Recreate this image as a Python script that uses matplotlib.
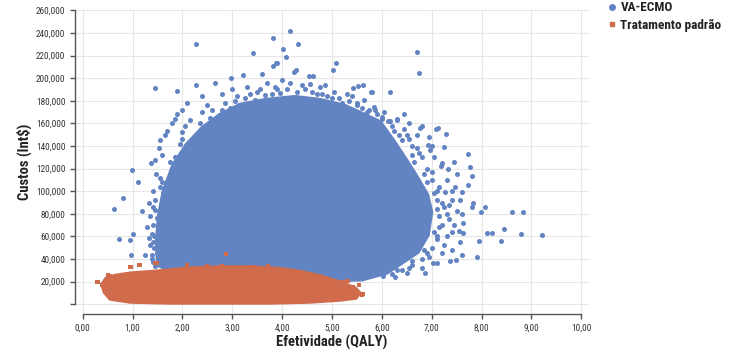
import matplotlib
matplotlib.use("Agg")
import matplotlib.pyplot as plt
from matplotlib.lines import Line2D
from matplotlib.ticker import FuncFormatter

BLUE = "#6384C3"
ORANGE = "#D06B4C"

series_names = ["VA-ECMO", "Tratamento padrão"]

# Dense core outline of VA-ECMO cloud (QALY, Int$)
ecmo_core_x = [1.51, 1.49, 1.53, 1.63, 1.82, 2.08, 2.40, 2.75, 3.15, 3.66, 4.26, 4.76, 5.26, 5.66,
               5.96, 6.22, 6.46, 6.70, 6.91, 6.99, 6.92, 6.72, 6.42, 6.10, 5.60, 5.00, 4.40, 3.80,
               3.00, 2.20, 1.60]
ecmo_core_y = [35000, 56900, 79000, 101000, 123200, 140900, 155900, 167400, 176300, 180700, 183300,
               180700, 175400, 167400, 161200, 145300, 129400, 112600, 96700, 81600, 61300, 46300,
               37400, 28000, 22000, 21500, 24000, 28000, 30000, 31000, 33000]

# Sparse VA-ECMO points outside the core
ecmo_x = [1.45, 0.99, 1.37, 1.47, 1.53, 1.11, 0.80, 0.62, 0.73, 0.95, 1.00, 0.97, 1.25, 1.39, 1.49,
          1.19, 1.32, 1.29, 1.33, 1.89, 1.85, 1.70, 1.55, 2.27, 2.65, 2.98, 3.22, 3.60, 3.88, 4.24,
          4.28, 4.54, 4.86, 2.28, 3.82, 4.16, 4.32, 4.02, 4.08, 3.42, 6.71, 6.75, 3.82, 3.90, 4.62,
          5.08, 5.03, 6.17, 5.63, 5.52, 5.42, 5.81, 5.79, 6.16, 6.31, 6.81, 6.77, 7.09, 7.13, 7.29,
          7.25, 7.73, 7.77, 7.80, 7.45, 7.19, 6.93, 6.97, 6.55, 6.71, 7.61, 7.73, 7.83, 7.81, 7.99,
          8.07, 8.61, 8.83, 8.45, 8.11, 8.21, 7.95, 8.39, 8.79, 9.21, 7.91, 7.61, 7.49, 7.37, 7.10,
          7.03, 6.87, 6.81, 6.27, 6.03, 7.63, 7.63, 7.57, 7.51, 7.57, 7.47, 5.85, 5.87, 6.12, 6.30,
          7.33, 7.27,
          2.0, 2.1, 2.4, 2.5, 2.8, 3.0, 3.1, 3.3, 3.5, 3.7, 3.9, 4.0, 4.4, 4.6, 4.8, 5.0, 5.2, 5.4,
          5.5, 5.7, 6.0, 1.8, 1.9, 1.65, 1.6, 1.45, 1.55, 1.4, 1.45, 1.35, 1.4, 1.38, 1.42, 1.5, 1.6,
          6.5, 6.6, 6.8, 6.9, 7.0, 7.1, 7.2, 7.3, 7.2, 7.1, 7.0, 6.9, 6.6, 6.4, 7.4, 7.35, 7.4, 7.25,
          2.0, 2.05, 2.15, 2.3, 2.35, 2.4, 2.55, 2.6, 2.8, 2.85, 2.95, 3.05, 3.25, 3.35, 3.45, 3.55,
          3.65, 3.8, 3.85, 3.95, 4.1, 4.15, 4.3, 4.45, 4.55, 4.7, 4.75, 4.9, 5.05, 5.15, 5.3, 5.35,
          5.5, 5.6, 5.65, 5.75, 5.9, 6.0, 6.05, 6.2, 6.25,
          6.35, 6.4, 6.45, 6.6, 6.65, 6.75, 6.85, 6.9, 7.0, 7.05, 7.1, 7.15, 7.1, 7.15, 7.25, 7.05,
          7.1, 7.15, 6.85, 6.95, 6.8, 6.6, 6.55, 6.5, 6.2, 6.3,
          1.4, 1.45, 1.38, 1.4, 1.35, 1.42, 1.48, 1.45, 1.4, 1.62, 1.55, 1.6, 1.8, 1.75, 1.85, 2.05,
          1.95, 2.0,
          7.2, 7.05, 7.3, 7.4, 7.35, 7.45, 7.3, 7.2, 7.4, 7.5, 7.6, 7.55, 7.0, 6.95, 6.7, 6.55, 6.45]
ecmo_y = [191000, 118700, 124800, 115400, 138000, 108000, 94000, 84300, 57600, 56900, 62200, 43600,
          43600, 43600, 45400, 82500, 89600, 68400, 58600, 188600, 164000, 153000, 145000, 194000,
          196000, 200000, 203000, 204000, 213000, 205000, 207000, 202000, 194000, 230000, 235600,
          242000, 230000, 225600, 219000, 222000, 223000, 204500, 211000, 213400, 202000, 213700,
          207000, 188000, 194000, 193000, 191000, 187700, 188000, 162000, 163600, 157600, 155800,
          155000, 155500, 150500, 139000, 132800, 121000, 113600, 125600, 122300, 140800, 136400,
          146200, 138000, 99200, 105500, 89500, 86000, 81600, 86000, 81600, 81600, 66600, 63000,
          63000, 56000, 56000, 62000, 61300, 41800, 43600, 39200, 38300, 36500, 36800, 27700, 32100,
          24100, 25000, 71800, 63000, 55000, 82500, 92000, 103700, 174600, 171800, 162000, 163000,
          119600, 99200,
          172000, 178000, 184000, 176000, 186000, 190000, 184000, 192000, 188000, 196000, 190000,
          198000, 194000, 188000, 186000, 182000, 178000, 184000, 176000, 170000, 166000, 160000,
          168000, 150000, 132000, 128000, 112000, 100000, 92000, 78000, 70000, 62000, 50000, 45000,
          40000,
          150000, 140000, 130000, 120000, 110000, 100000, 90000, 80000, 70000, 60000, 50000, 45000,
          35000, 30000, 92000, 75000, 64000, 52000,
          152000, 158000, 163000, 150000, 160000, 170000, 165000, 172000, 172000, 178000, 174000,
          180000, 182000, 186000, 181000, 190000, 185000, 186000, 192000, 187000, 190000, 196000,
          188000, 190000, 195000, 186000, 192000, 184000, 188000, 182000, 186000, 180000, 178000,
          174000, 181000, 172000, 168000, 164000, 170000, 158000, 153000,
          150000, 145000, 155000, 132000, 126000, 134000, 115000, 108000, 117000, 98000, 92000,
          104000, 84000, 78000, 86000, 64000, 58000, 68000, 48000, 42000, 40000, 38000, 32000,
          28000, 27000, 30000,
          37000, 34000, 40000, 55000, 52000, 60000, 76000, 83000, 86000, 98000, 104000, 108000,
          120000, 126000, 130000, 138000, 142000, 146000,
          125000, 130000, 110000, 100000, 88000, 70000, 60000, 45000, 48000, 115000, 80000, 65000,
          140000, 148000, 150000, 160000, 168000]

# Dense core outline of standard-treatment cloud
std_core_x = [0.39, 0.47, 0.65, 0.95, 1.55, 2.15, 2.75, 3.36, 3.96, 4.36, 4.76, 5.16, 5.46, 5.56,
              5.48, 5.16, 4.56, 3.76, 2.75, 1.75, 0.95, 0.55, 0.43]
std_core_y = [17950, 23000, 25500, 27500, 29500, 32000, 33000, 33000, 31500, 29000, 25030, 19720,
              14420, 9990, 5570, 3800, 2030, 1150, 1150, 1150, 2030, 4690, 10880]

std_x = [0.28, 0.31, 0.39, 0.51, 0.55, 0.95, 0.97, 1.13, 1.15, 1.45, 1.49, 2.09, 2.88, 2.80, 2.50,
         3.42, 3.72, 5.42, 5.62, 5.30, 4.82, 5.02, 5.50, 5.22, 5.32, 5.54, 5.60, 5.42, 5.40]
std_y = [19700, 19700, 17000, 25900, 25000, 33000, 33000, 34800, 34800, 36500, 36500, 34800, 44500,
         34000, 33500, 33000, 33900, 15300, 9100, 20600, 18800, 15300, 10900, 19700, 20300, 17000,
         8200, 12600, 8200]

x_ticks = [0, 1, 2, 3, 4, 5, 6, 7, 8, 9, 10]
y_ticks = [0, 20000, 40000, 60000, 80000, 100000, 120000, 140000, 160000, 180000, 200000, 220000,
           240000, 260000]

plt.rcParams["font.family"] = ["Roboto Condensed", "Archivo Narrow", "Asap Condensed",
                               "Liberation Sans", "DejaVu Sans"]

fig = plt.figure(figsize=(7.5, 3.56), dpi=100)
ax = fig.add_axes([74.5 / 750, 1 - 314.25 / 356, 514.5 / 750, (314.25 - 10.3) / 356])

ax.fill(ecmo_core_x, ecmo_core_y, color=BLUE, lw=3, zorder=2)
ax.scatter(ecmo_x, ecmo_y, s=13, color=BLUE, marker="o", linewidths=0, zorder=2)
ax.fill(std_core_x, std_core_y, color=ORANGE, lw=2.5, zorder=3)
ax.scatter(std_x, std_y, s=9, color=ORANGE, marker="s", linewidths=0, zorder=3)

ax.set_xlim(-0.165, 10.155)
ax.set_ylim(-8800, 260000)
ax.set_xticks(x_ticks)
ax.set_yticks(y_ticks)
ax.xaxis.set_major_formatter(FuncFormatter(lambda v, p: f"{v:.2f}".replace(".", ",")))
ax.yaxis.set_major_formatter(FuncFormatter(lambda v, p: "" if v == 0 else f"{int(v):,}"))
ax.grid(True, color="#e6e6e6", lw=0.8, zorder=0)
ax.set_axisbelow(True)

for s in ["top", "right"]:
    ax.spines[s].set_visible(False)
ax.spines["left"].set_bounds(0, 260000)
ax.spines["bottom"].set_bounds(0, 10)
for s in ["left", "bottom"]:
    ax.spines[s].set_color("#555555")
    ax.spines[s].set_linewidth(1.0)
ax.tick_params(axis="both", length=3.5, width=1.0, color="#555555", labelsize=6.7,
               labelcolor="#333333", pad=3)

ax.set_xlabel("Efetividade (QALY)", fontsize=10.5, fontweight="bold", color="#222222", labelpad=2)
ax.set_ylabel("Custos (Int$)", fontsize=10.5, fontweight="bold", color="#222222", labelpad=3)

handles = [
    Line2D([], [], marker="o", ls="", color=BLUE, markersize=4),
    Line2D([], [], marker="s", ls="", color=ORANGE, markersize=3.5),
]
fig.legend(handles, series_names, loc="upper left", bbox_to_anchor=(600 / 750, 1 + 4 / 356),
           frameon=False, prop={"size": 9.5, "weight": "bold"}, handlelength=1.0,
           handletextpad=0.15, labelspacing=0.35, borderaxespad=0, labelcolor="#222222")

fig.savefig("out.png", dpi=100)
